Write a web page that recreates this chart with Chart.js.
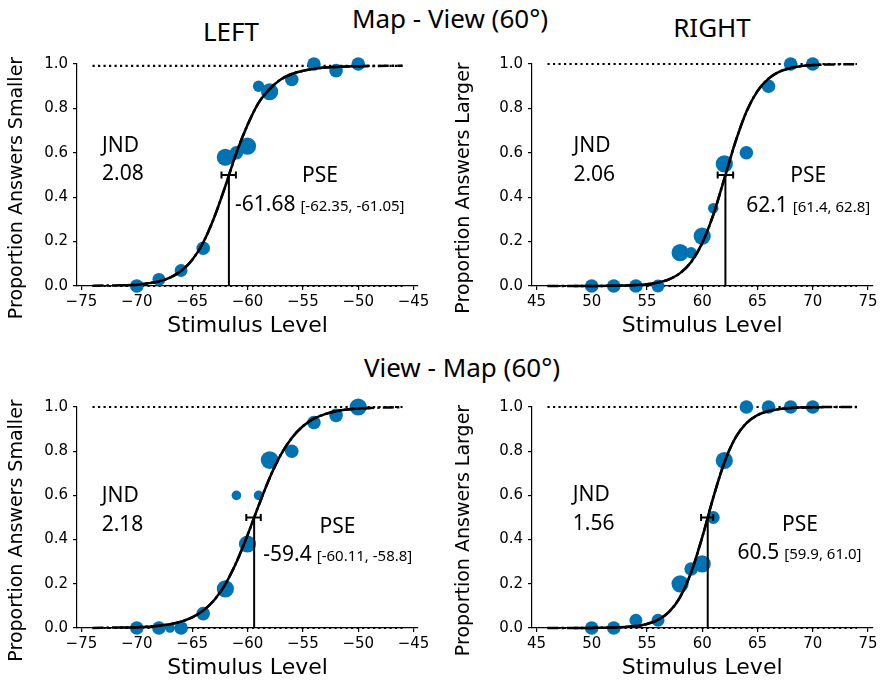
<!DOCTYPE html>
<html>
<head>
<meta charset="utf-8">
<script src="https://cdn.jsdelivr.net/npm/chart.js@4.4.1/dist/chart.umd.min.js"></script>
<style>
  body { margin: 0; width: 881px; height: 682px; position: relative; overflow: hidden; background: #fff; font-family: "Noto Sans", sans-serif; }
  .t { position: absolute; line-height: 1; font-size: 26px; color: #000; white-space: nowrap; transform: translateX(-50%); }
  canvas { position: absolute; }
</style>
</head>
<body>
<div class="t" style="left:450px; top:5px">Map - View (60°)</div>
<div class="t" style="left:231px; top:18px">LEFT</div>
<div class="t" style="left:712px; top:14px">RIGHT</div>
<div class="t" style="left:462px; top:354px">View - Map (60°)</div>

<canvas id="mvLeft" width="440" height="296" style="left:0; top:44px"></canvas>
<canvas id="mvRight" width="441" height="296" style="left:440px; top:44px"></canvas>
<canvas id="vmLeft" width="440" height="295" style="left:0; top:387px"></canvas>
<canvas id="vmRight" width="441" height="295" style="left:440px; top:387px"></canvas>

<script>
const leftTicks = [-75, -70, -65, -60, -55, -50, -45];
const rightTicks = [45, 50, 55, 60, 65, 70, 75];
const yTicks = [0, 0.2, 0.4, 0.6, 0.8, 1.0];

// Map - View (60°), LEFT
const mvLeftLevels = [-70, -68, -66, -64, -62, -61, -60, -59, -58, -56, -54, -52, -50];
const mvLeftProp = [0, 0.03, 0.07, 0.17, 0.58, 0.6, 0.63, 0.9, 0.875, 0.93, 1.0, 0.97, 1.0];
const mvLeftTrials = [10, 9, 9, 10, 16, 10, 16, 7, 16, 10, 10, 10, 10];
const mvLeftFitX = [-74, -71.4, -71, -70, -69, -68, -67, -66, -65, -64, -63, -62, -61, -60, -59, -58, -57, -56, -55, -54, -53, -52, -51, -50, -49.1, -46];
const mvLeftFitY = [0.001, 0.003, 0.0035, 0.006, 0.012, 0.021, 0.038, 0.068, 0.117, 0.196, 0.31, 0.45, 0.6, 0.725, 0.825, 0.887, 0.93, 0.955, 0.969, 0.978, 0.984, 0.987, 0.989, 0.99, 0.991, 0.992];

// Map - View (60°), RIGHT
const mvRightLevels = [50, 52, 54, 56, 58, 59, 60, 61, 62, 64, 66, 68, 70];
const mvRightProp = [0, 0, 0, 0, 0.15, 0.15, 0.225, 0.35, 0.55, 0.6, 0.9, 1.0, 1.0];
const mvRightTrials = [10, 10, 10, 9, 16, 7, 16, 6, 16, 10, 10, 10, 10];
const mvRightFitX = [46, 48.4, 50, 52, 53, 54, 55, 56, 57, 58, 59, 60, 61, 62, 63, 64, 65, 66, 67, 68, 69, 70, 70.8, 74];
const mvRightFitY = [0, 0.0001, 0.0003, 0.001, 0.002, 0.004, 0.008, 0.016, 0.03, 0.058, 0.108, 0.193, 0.32, 0.483, 0.648, 0.785, 0.878, 0.934, 0.966, 0.982, 0.991, 0.995, 0.997, 0.999];

// View - Map (60°), LEFT
const vmLeftLevels = [-70, -68, -67, -66, -64, -62, -61, -60, -59, -58, -56, -54, -52, -50];
const vmLeftProp = [0, 0, 0, 0, 0.065, 0.177, 0.6, 0.38, 0.6, 0.76, 0.8, 0.93, 0.962, 1.0];
const vmLeftTrials = [10, 10, 5, 10, 10, 16, 5, 16, 5, 17, 10, 10, 10, 16];
const vmLeftFitX = [-74, -71.5, -71, -70, -69, -68, -67, -66, -65, -64, -63, -62, -61, -60, -59, -58, -57, -56, -55, -54, -53, -52, -51, -50, -48.9, -46];
const vmLeftFitY = [0.0004, 0.002, 0.002, 0.0034, 0.006, 0.01, 0.017, 0.029, 0.048, 0.079, 0.127, 0.199, 0.298, 0.42, 0.553, 0.679, 0.783, 0.86, 0.913, 0.947, 0.968, 0.981, 0.989, 0.993, 0.996, 0.999];

// View - Map (60°), RIGHT
const vmRightLevels = [50, 52, 54, 56, 58, 59, 60, 61, 62, 64, 66, 68, 70];
const vmRightProp = [0, 0, 0.035, 0.035, 0.2, 0.267, 0.29, 0.5, 0.758, 1.0, 1.0, 1.0, 1.0];
const vmRightTrials = [10, 10, 9, 9, 16, 10, 16, 9, 16, 10, 10, 10, 10];
const vmRightFitX = [46, 48.4, 50, 52, 53, 54, 55, 56, 57, 58, 59, 60, 61, 62, 63, 64, 65, 66, 67, 68, 69, 70, 71, 74];
const vmRightFitY = [0.0001, 0.0002, 0.0005, 0.002, 0.0044, 0.009, 0.018, 0.037, 0.073, 0.14, 0.252, 0.41, 0.59, 0.748, 0.86, 0.927, 0.963, 0.982, 0.991, 0.996, 0.998, 0.999, 0.9995, 1.0];

const BLUE = '#0173b2';
const xy = (xs, ys) => xs.map((x, i) => ({ x, y: ys[i] }));
const minus = v => String(v).replace('-', '\u2212');

// texts, y title and the like
const annot = {
  id: 'annot',
  afterDatasetsDraw(chart, args, o) {
    const { ctx, chartArea, scales: { x, y } } = chart;
    ctx.save();
    ctx.fillStyle = '#000';
    ctx.textBaseline = 'alphabetic';
    ctx.textAlign = 'left';
    ctx.font = '21px "Noto Sans"';
    ctx.fillText('JND', x.getPixelForValue(o.jndPos[0]), y.getPixelForValue(o.jndPos[1]));
    ctx.fillText(o.jnd, x.getPixelForValue(o.jndPos[0]), y.getPixelForValue(o.jndPos[2]));
    ctx.fillText('PSE', x.getPixelForValue(o.psePos[0]), y.getPixelForValue(o.psePos[1]));
    const vx = x.getPixelForValue(o.valPos[0]), vy = y.getPixelForValue(o.valPos[1]);
    ctx.fillText(o.pseText, vx, vy);
    const w = ctx.measureText(o.pseText).width;
    ctx.font = '15px "Noto Sans"';
    ctx.fillText(o.ciText, vx + w + 5, vy);

    ctx.translate(o.titleX, (chartArea.top + chartArea.bottom) / 2 + 13);
    ctx.rotate(-Math.PI / 2);
    ctx.textAlign = 'center';
    ctx.textBaseline = 'middle';
    ctx.font = '19px "DejaVu Sans"';
    ctx.fillText(o.yTitle, 0, 0);
    ctx.restore();
  }
};

function panel(id, p) {
  const fit = xy(p.fitX, p.fitY);
  const solid = fit.filter(d => d.x >= p.solid[0] && d.x <= p.solid[1]);
  const black = { showLine: true, borderColor: '#000', pointRadius: 0, clip: false };
  new Chart(document.getElementById(id), {
    type: 'scatter',
    data: {
      datasets: [
        { data: xy(p.levels, p.prop), pointRadius: p.trials.map(n => 2.15 * Math.sqrt(n)),
          backgroundColor: BLUE, borderWidth: 0, pointBorderWidth: 0, order: 5, clip: false },
        { ...black, data: [{ x: p.span[0], y: p.top }, { x: p.span[1], y: p.top }], borderWidth: 2.2, borderDash: [2.2, 3.3], order: 9 },
        { ...black, data: [{ x: p.span[0], y: 0 }, { x: p.span[1], y: 0 }], borderWidth: 2.2, borderDash: [2.2, 3.3], order: 9 },
        { ...black, data: fit, borderWidth: 2.5, borderDash: [11, 3, 2.5, 3], cubicInterpolationMode: 'monotone', order: 2 },
        { ...black, data: solid, borderWidth: 2.5, cubicInterpolationMode: 'monotone', order: 1 },
        { ...black, data: [{ x: p.pse, y: 0 }, { x: p.pse, y: 0.5 }], borderWidth: 2, order: 1 },
        { ...black, data: [{ x: p.ci[0], y: 0.5 }, { x: p.ci[1], y: 0.5 }], borderWidth: 2,
          pointStyle: 'line', rotation: 90, pointRadius: 3.5, pointBorderColor: '#000', pointBorderWidth: 2, order: 1 }
      ]
    },
    options: {
      responsive: false,
      animation: false,
      events: [],
      layout: { padding: { left: 0, top: 20, right: p.padRight, bottom: 0 } },
      plugins: {
        legend: { display: false },
        tooltip: { enabled: false },
        annot: p.text
      },
      scales: {
        x: {
          type: 'linear', min: p.xMin, max: p.xMax,
          afterBuildTicks: s => { s.ticks = p.xTicks.map(v => ({ value: v })); },
          afterFit: s => { s.height = 54; },
          ticks: { autoSkip: false, maxRotation: 0, padding: 3, color: '#000',
                   font: { family: 'DejaVu Sans', size: 15 }, callback: v => minus(v) },
          grid: { display: true, drawOnChartArea: false, drawTicks: true, tickLength: 4, color: '#000', lineWidth: 1.2 },
          border: { display: true, color: '#000', width: 1.2 },
          title: { display: true, text: 'Stimulus Level', color: '#000',
                   font: { family: 'DejaVu Sans', size: 22 }, padding: { top: 0, bottom: 1 } }
        },
        y: {
          type: 'linear', min: 0, max: 1,
          afterBuildTicks: s => { s.ticks = yTicks.map(v => ({ value: v })); },
          afterFit: s => { s.width = p.yWidth; },
          ticks: { padding: 5, color: '#000', font: { family: 'DejaVu Sans', size: 15 }, callback: v => v.toFixed(1) },
          grid: { display: true, drawOnChartArea: false, drawTicks: true, tickLength: 4, color: '#000', lineWidth: 1.2 },
          border: { display: true, color: '#000', width: 1.2 }
        }
      }
    },
    plugins: [annot]
  });
}

panel('mvLeft', {
  levels: mvLeftLevels, prop: mvLeftProp, trials: mvLeftTrials,
  fitX: mvLeftFitX, fitY: mvLeftFitY, solid: [-71.4, -49.1], span: [-74, -46], top: 0.992,
  pse: -61.68, ci: [-62.35, -61.05],
  xMin: -75.4, xMax: -44.6, xTicks: leftTicks, yWidth: 77, padRight: 22,
  text: { jnd: '2.08', jndPos: [-73.14, 0.605, 0.476], psePos: [-55.07, 0.47], valPos: [-61.13, 0.34],
          pseText: '-61.68', ciText: '[-62.35, -61.05]', yTitle: 'Proportion Answers Smaller', titleX: 17 }
});

panel('mvRight', {
  levels: mvRightLevels, prop: mvRightProp, trials: mvRightTrials,
  fitX: mvRightFitX, fitY: mvRightFitY, solid: [48.4, 70.8], span: [46, 74], top: 1,
  pse: 62.1, ci: [61.4, 62.8],
  xMin: 44.6, xMax: 75.4, xTicks: rightTicks, yWidth: 92, padRight: 6,
  text: { jnd: '2.06', jndPos: [48.35, 0.605, 0.473], psePos: [67.97, 0.47], valPos: [63.98, 0.335],
          pseText: '62.1', ciText: '[61.4, 62.8]', yTitle: 'Proportion Answers Larger', titleX: 24 }
});

panel('vmLeft', {
  levels: vmLeftLevels, prop: vmLeftProp, trials: vmLeftTrials,
  fitX: vmLeftFitX, fitY: vmLeftFitY, solid: [-71.5, -48.9], span: [-74, -46], top: 1,
  pse: -59.4, ci: [-60.11, -58.8],
  xMin: -75.4, xMax: -44.6, xTicks: leftTicks, yWidth: 77, padRight: 22,
  text: { jnd: '2.18', jndPos: [-73.17, 0.569, 0.439], psePos: [-53.5, 0.431], valPos: [-58.57, 0.305],
          pseText: '-59.4', ciText: '[-60.11, -58.8]', yTitle: 'Proportion Answers Smaller', titleX: 17 }
});

panel('vmRight', {
  levels: vmRightLevels, prop: vmRightProp, trials: vmRightTrials,
  fitX: vmRightFitX, fitY: vmRightFitY, solid: [48.4, 71], span: [46, 74], top: 1,
  pse: 60.5, ci: [59.9, 61.0],
  xMin: 44.6, xMax: 75.4, xTicks: rightTicks, yWidth: 92, padRight: 6,
  text: { jnd: '1.56', jndPos: [48.29, 0.573, 0.445], psePos: [67.22, 0.44], valPos: [63.2, 0.313],
          pseText: '60.5', ciText: '[59.9, 61.0]', yTitle: 'Proportion Answers Larger', titleX: 24 }
});
</script>
</body>
</html>
